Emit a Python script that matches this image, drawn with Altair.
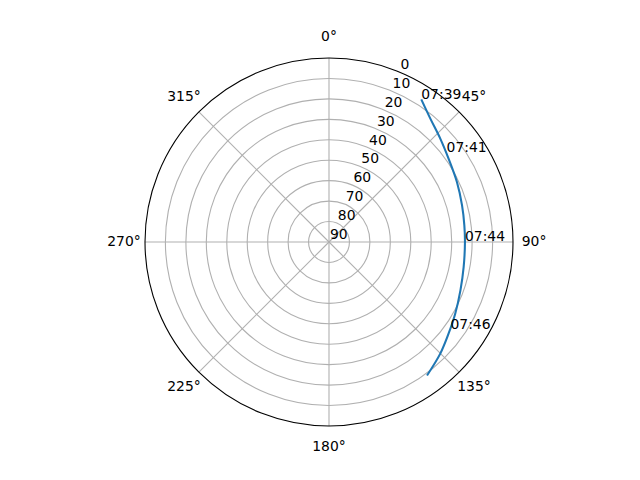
import math
import altair as alt
import pandas as pd

# Satellite track (azimuth in degrees clockwise from north, elevation in degrees)
TRACK_AZ = [32.9, 39.4, 47.1, 55.1, 64.9, 74.6, 83.0, 90.0, 100.6, 110.2, 119.6, 127.5, 135.1, 143.7]
TRACK_EL = [6.9, 11.9, 15.7, 18.7, 20.9, 22.5, 23.3, 23.5, 23.0, 21.5, 19.0, 16.3, 12.9, 9.0]

# Time annotations along the track
TIME_LABELS = ["07:39", "07:41", "07:44", "07:46"]
TIME_AZ = [32.9, 52.5, 89.5, 125.5]
TIME_EL = [6.9, 17.5, 23.5, 17.0]

# Axis ticks
AZ_TICKS = [0, 45, 90, 135, 180, 225, 270, 315]
EL_TICKS = [0, 10, 20, 30, 40, 50, 60, 70, 80, 90]
RLABEL_ANGLE = 22.5
THETA_LABEL_R = 100.3

FONT = "DejaVu Sans"
FS = 13.9
R_PX = 184

xs = alt.Scale(domain=[-90, 90], nice=False, zero=False)
ys = alt.Scale(domain=[-90, 90], nice=False, zero=False)
rs = alt.Scale(type="linear", domain=[0, 90], range=[0, R_PX], zero=True, nice=False)

track_df = pd.DataFrame({"i": list(range(len(TRACK_AZ))), "az": TRACK_AZ, "el": TRACK_EL})
time_df = pd.DataFrame({"label": TIME_LABELS, "az": TIME_AZ, "el": TIME_EL})
ring_df = pd.DataFrame({"el": EL_TICKS[1:-1]})
outer_df = pd.DataFrame({"el": [EL_TICKS[0]]})
spoke_df = pd.DataFrame({"a": AZ_TICKS})
az_lab_df = pd.DataFrame({"a": AZ_TICKS, "label": [f"{a}°" for a in AZ_TICKS]})
el_lab_df = pd.DataFrame({"el": EL_TICKS, "label": [str(e) for e in EL_TICKS]})

polar_x = "(90 - datum.el) * sin(datum.az * PI / 180)"
polar_y = "(90 - datum.el) * cos(datum.az * PI / 180)"

rings = alt.Chart(ring_df).transform_calculate(zen="90 - datum.el").mark_arc(
    fillOpacity=0, stroke="#b0b0b0", strokeWidth=1.1
).encode(
    theta=alt.value(0), theta2=alt.value(2 * math.pi),
    radius=alt.Radius("zen:Q", scale=rs, stack=False),
)

spokes = alt.Chart(spoke_df).transform_calculate(
    x0="0", y0="0",
    x1="90 * sin(datum.a * PI / 180)", y1="90 * cos(datum.a * PI / 180)",
).mark_rule(color="#b0b0b0", strokeWidth=1.1).encode(
    x=alt.X("x0:Q", scale=xs, axis=None), y=alt.Y("y0:Q", scale=ys, axis=None),
    x2="x1:Q", y2="y1:Q",
)

outer = alt.Chart(outer_df).transform_calculate(zen="90 - datum.el").mark_arc(
    fillOpacity=0, stroke="black", strokeWidth=1.1
).encode(
    theta=alt.value(0), theta2=alt.value(2 * math.pi),
    radius=alt.Radius("zen:Q", scale=rs, stack=False),
)

track = alt.Chart(track_df).transform_calculate(x=polar_x, y=polar_y).mark_line(
    color="#1f77b4", strokeWidth=2.08, interpolate="catmull-rom"
).encode(
    x=alt.X("x:Q", scale=xs, axis=None), y=alt.Y("y:Q", scale=ys, axis=None),
    order="i:Q",
)

times = alt.Chart(time_df).transform_calculate(x=polar_x, y=polar_y).mark_text(
    align="left", baseline="alphabetic", font=FONT, fontSize=FS, color="black"
).encode(
    x=alt.X("x:Q", scale=xs, axis=None), y=alt.Y("y:Q", scale=ys, axis=None),
    text="label:N",
)

az_labels = alt.Chart(az_lab_df).transform_calculate(
    x=f"{THETA_LABEL_R} * sin(datum.a * PI / 180)",
    y=f"{THETA_LABEL_R} * cos(datum.a * PI / 180)",
).mark_text(align="center", baseline="middle", font=FONT, fontSize=FS, color="black").encode(
    x=alt.X("x:Q", scale=xs, axis=None), y=alt.Y("y:Q", scale=ys, axis=None),
    text="label:N",
)

el_labels = alt.Chart(el_lab_df).transform_calculate(
    x=f"(90 - datum.el) * sin({RLABEL_ANGLE} * PI / 180)",
    y=f"(90 - datum.el) * cos({RLABEL_ANGLE} * PI / 180)",
).mark_text(align="left", baseline="bottom", font=FONT, fontSize=FS, color="black", dx=1).encode(
    x=alt.X("x:Q", scale=xs, axis=None), y=alt.Y("y:Q", scale=ys, axis=None),
    text="label:N",
)

chart = alt.layer(rings, spokes, el_labels, track, outer, times, az_labels).properties(
    width=2 * R_PX, height=2 * R_PX,
    autosize=alt.AutoSizeParams(type="none"),
    padding={"left": 137, "top": 50, "right": 100, "bottom": 50},
    background="white",
).configure_view(stroke=None)

chart.save("out.html", embed_options={"renderer": "svg", "actions": False})
